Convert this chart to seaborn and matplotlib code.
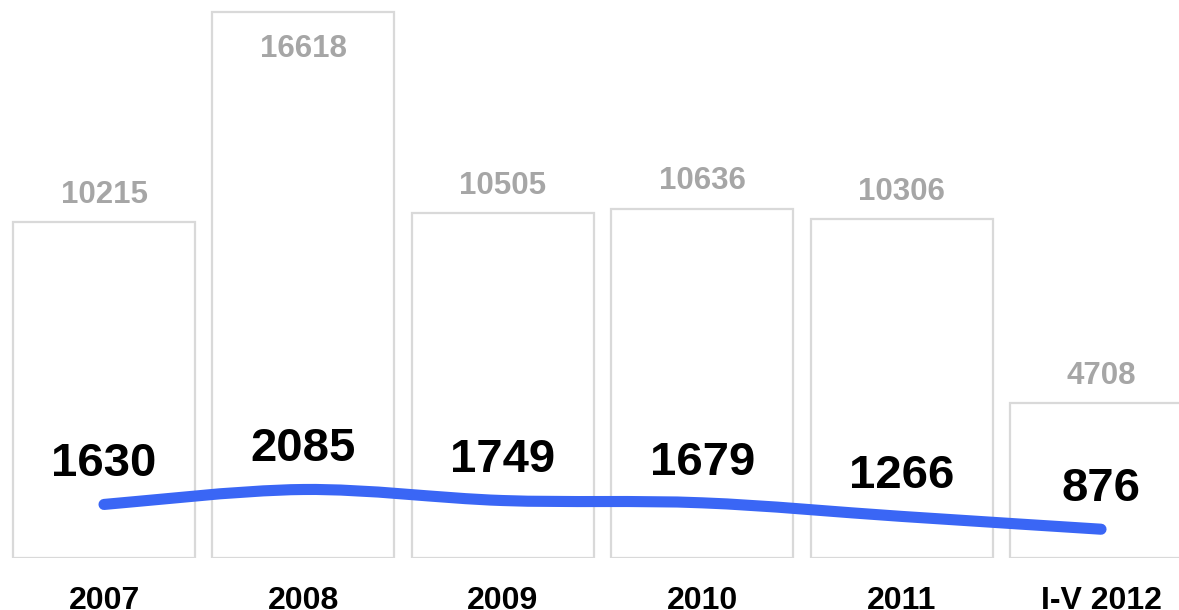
import numpy as np
import pandas as pd
import matplotlib
matplotlib.use("Agg")
import matplotlib.pyplot as plt
from matplotlib.path import Path
from matplotlib.patches import PathPatch
import seaborn as sns

# Dane z wykresu
periods = ['2007', '2008', '2009', '2010', '2011', 'I-V 2012']
bar_values = [10215, 16618, 10505, 10636, 10306, 4708]
line_values = [1630, 2085, 1749, 1679, 1266, 876]

BAR_EDGE = '#D9D9D9'
BAR_TEXT = '#A6A6A6'
LINE_BLUE = '#3A66F5'

sns.set_theme(style='white')
plt.rcParams['font.family'] = ['Liberation Sans', 'DejaVu Sans']
plt.rcParams['font.weight'] = 'bold'

df = pd.DataFrame({'period': periods, 'total': bar_values, 'part': line_values})

fig = plt.figure(figsize=(11.79, 6.10), dpi=100)
ax = fig.add_axes([0, 52 / 610, 1, 558 / 610])

sns.barplot(data=df, x='period', y='total', ax=ax, color='white',
            edgecolor=BAR_EDGE, linewidth=1.6, width=0.913, saturation=1)

ax.set_xlim(-0.5216, 5.391)
ax.set_ylim(0, 16983)

# wygladzona linia (krzywe Beziera przez punkty danych)
xs = np.arange(len(line_values), dtype=float)
pts = np.column_stack([xs, np.array(line_values, dtype=float)])
verts = [pts[0]]
codes = [Path.MOVETO]
n = len(pts)
for i in range(n - 1):
    p0 = pts[max(i - 1, 0)]
    p1 = pts[i]
    p2 = pts[i + 1]
    p3 = pts[min(i + 2, n - 1)]
    c1 = p1 + (p2 - p0) / 6
    c2 = p2 - (p3 - p1) / 6
    verts += [c1, c2, p2]
    codes += [Path.CURVE4] * 3
ax.add_patch(PathPatch(Path(verts, codes), facecolor='none', edgecolor=LINE_BLUE,
                       linewidth=8, capstyle='round', joinstyle='round', zorder=3))

# etykiety wartosci
ymax = ax.get_ylim()[1]
for i, (b, l) in enumerate(zip(bar_values, line_values)):
    dy = 19.5 if b < 0.9 * ymax else -26.5
    ax.annotate(f'{b}', (i, b), xytext=(0, dy), textcoords='offset points',
                ha='center', va='center', fontsize=22.5, fontweight='bold',
                color=BAR_TEXT)
    ax.annotate(f'{l}', (i, l), xytext=(0, 29), textcoords='offset points',
                ha='center', va='center', fontsize=34, fontweight='bold',
                color='black', zorder=4)

ax.set_xlabel('')
ax.set_ylabel('')
ax.set_yticks([])
ax.tick_params(axis='x', length=0, pad=31, labelsize=23)
for lab in ax.get_xticklabels():
    lab.set_fontweight('bold')
    lab.set_color('black')
    lab.set_va('center')
sns.despine(ax=ax, left=True, bottom=True)

fig.savefig('out.png', dpi=100)
